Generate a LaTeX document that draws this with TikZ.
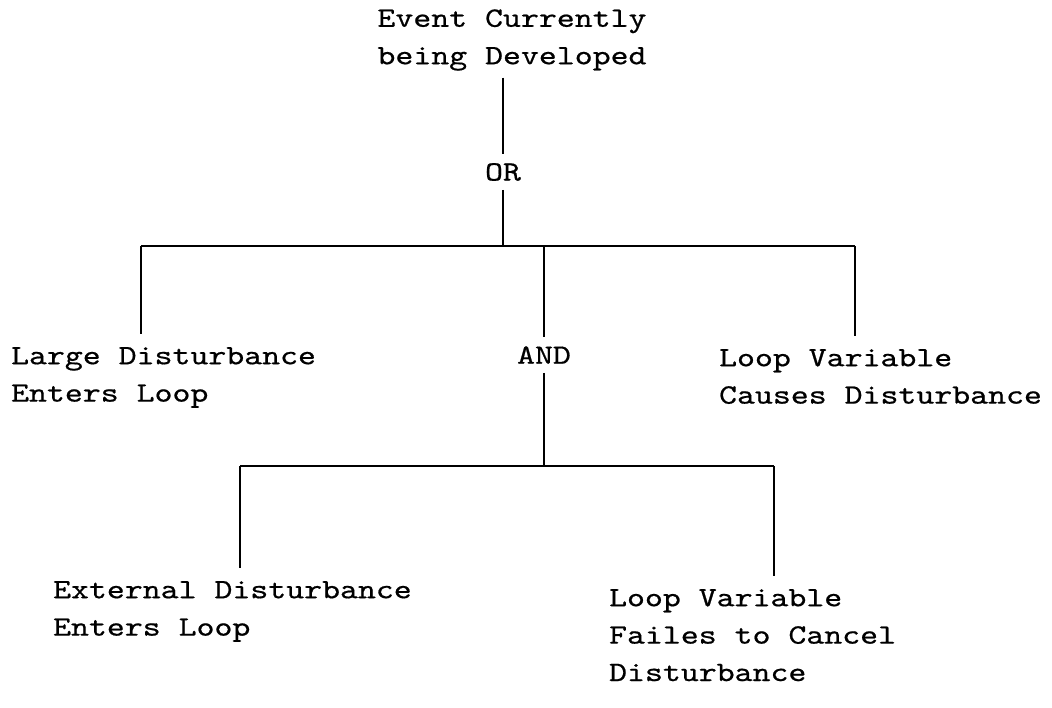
\documentclass[tikz,border=0pt]{standalone}
\usepackage{fontspec}
\setmonofont{lmmono10-regular}[Extension=.otf,FakeStretch=1.22,FakeBold=0.6]
\usetikzlibrary{positioning}

\begin{document}
\begin{tikzpicture}[x=0.5pt,y=-0.5pt,line width=1.1pt]
	\tikzstyle{event} = [font=\ttfamily\fontsize{14}{18.7}\selectfont,align=left,anchor=north west,inner xsep=3pt,inner ysep=6pt]
	\tikzstyle{gate} = [font=\ttfamily\fontsize{14}{18.7}\selectfont,inner xsep=3pt,inner ysep=4pt]
	\useasboundingbox (0,0) rectangle (1052,707);
	% top event and OR gate
	\node[event,align=center,anchor=center,inner ysep=3pt]	(top)	at (512,40)		{Event Currently\\being Developed};
	\node[gate]								(or)	at (503,172)	{OR};
	\node[event]							(large)	at (4,334)		{Large Disturbance\\Enters Loop};
	\node[gate]								(and)	at (544,355)	{AND};
	\node[event]							(cause)	at (712,336)	{Loop Variable\\Causes Disturbance};
	% lower level
	\node[event]							(ext)	at (46,568)		{External Disturbance\\Enters Loop};
	\node[event]							(fail)	at (602,576)	{Loop Variable\\Failes to Cancel\\Disturbance};
	\coordinate (busL) at (141,246);
	\coordinate (busR) at (855,246);
	\coordinate (lowL) at (240,466);
	\coordinate (lowR) at (774,466);
	\draw	(or.north |- top.south) -- (or.north)
			(or.south) -- (or.south |- busL)
			(busL) -- (busR)
			(busL) -- (busL |- large.north)
			(and.north |- busL) -- (and.north)
			(busR) -- (busR |- cause.north)
			(and.south) -- (and.south |- lowL)
			(lowL) -- (lowR)
			(lowL) -- (lowL |- ext.north)
			(lowR) -- (lowR |- fail.north);
\end{tikzpicture}
\end{document}
